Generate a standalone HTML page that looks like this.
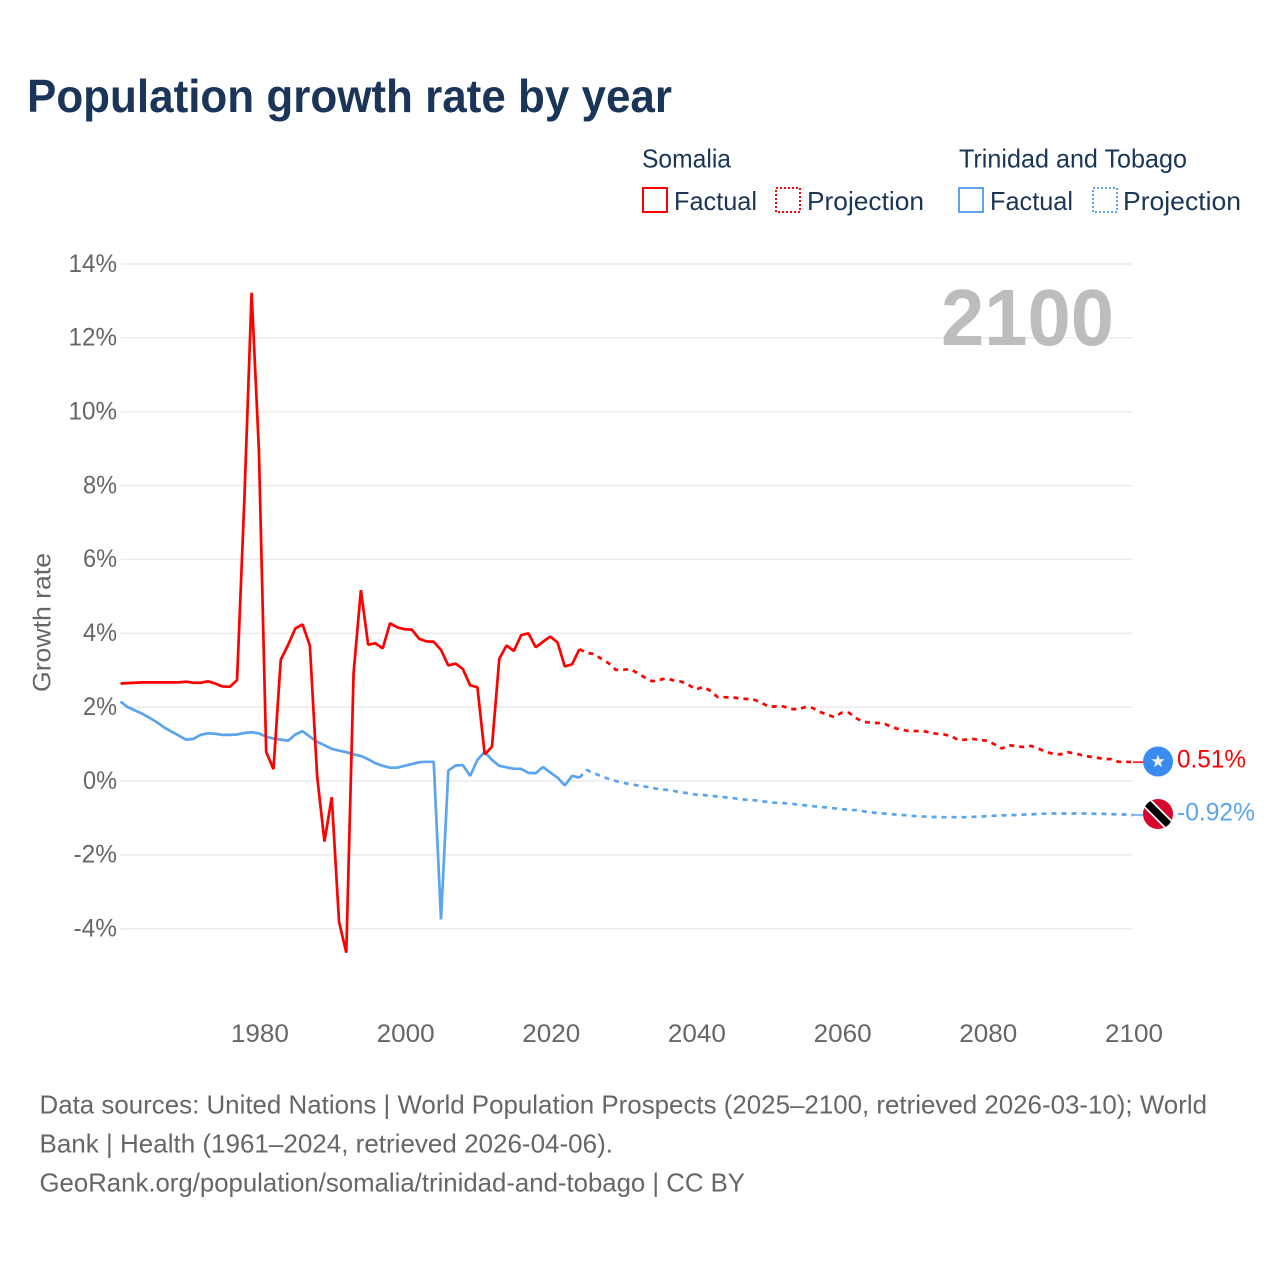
<!DOCTYPE html>
<html lang="en">
<head>
<meta charset="utf-8">
<title>Population growth rate by year</title>
<style>
html,body{margin:0;padding:0;background:#fff;}
svg{display:block;}
text{font-family:"Liberation Sans",Arial,sans-serif;}
</style>
</head>
<body>
<svg id="chart" xmlns="http://www.w3.org/2000/svg" width="1280" height="1280" viewBox="0 0 1280 1280">
  <rect x="0" y="0" width="1280" height="1280" fill="#ffffff"/>
  <text x="27" y="112" font-size="46" font-weight="700" fill="#1a3557" textLength="645" lengthAdjust="spacingAndGlyphs">Population growth rate by year</text>

  <g>
    <text x="642" y="167.5" font-size="26" fill="#1a3557" textLength="89" lengthAdjust="spacingAndGlyphs">Somalia</text>
    <rect x="643" y="188" width="24" height="24" fill="none" stroke="#ff0000" stroke-width="2"/>
    <text x="674" y="210" font-size="26" fill="#1a3557" textLength="83" lengthAdjust="spacingAndGlyphs">Factual</text>
    <rect x="776" y="188" width="24" height="24" fill="none" stroke="#ff0000" stroke-width="2" stroke-dasharray="2 2"/>
    <text x="807" y="210" font-size="26" fill="#1a3557" textLength="117" lengthAdjust="spacingAndGlyphs">Projection</text>
    <text x="959" y="167.5" font-size="26" fill="#1a3557" textLength="228" lengthAdjust="spacingAndGlyphs">Trinidad and Tobago</text>
    <rect x="959" y="188" width="24" height="24" fill="none" stroke="#5ba4ee" stroke-width="2"/>
    <text x="990" y="210" font-size="26" fill="#1a3557" textLength="83" lengthAdjust="spacingAndGlyphs">Factual</text>
    <rect x="1093" y="188" width="24" height="24" fill="none" stroke="#5ba4ee" stroke-width="2" stroke-dasharray="2 2"/>
    <text x="1123" y="210" font-size="26" fill="#1a3557" textLength="118" lengthAdjust="spacingAndGlyphs">Projection</text>
  </g>

  <g id="grid"></g>
  <g id="yticks"></g>
  <g id="xticks"></g>
  <text transform="translate(50.5,622.5) rotate(-90)" text-anchor="middle" font-size="25" fill="#666666" textLength="139" lengthAdjust="spacingAndGlyphs">Growth rate</text>
  <text x="941" y="345" font-size="80" font-weight="700" fill="#bdbdbd" textLength="173" lengthAdjust="spacingAndGlyphs">2100</text>
  <g id="series"></g>

  <defs>
    <clipPath id="tt-clip"><circle cx="1158" cy="814" r="15"/></clipPath>
  </defs>
  <g>
    <circle cx="1158" cy="761.5" r="15" fill="#3a8bef"/>
    <polygon fill="#f2f2f2" points="1158,754.5 1159.7,759.3 1164.7,759.3 1160.7,762.4 1162.1,767.3 1158,764.4 1153.9,767.3 1155.3,762.4 1151.3,759.3 1156.3,759.3"/>
  </g>
  <g clip-path="url(#tt-clip)">
    <rect x="1143" y="799" width="30" height="30" fill="#d7062f"/>
    <line x1="1143" y1="799" x2="1173" y2="829" stroke="#ffffff" stroke-width="11"/>
    <line x1="1143" y1="799" x2="1173" y2="829" stroke="#000000" stroke-width="7.5"/>
  </g>
  <text x="1177" y="767.5" font-size="25" fill="#ff0000" textLength="69" lengthAdjust="spacingAndGlyphs">0.51%</text>
  <text x="1177" y="820.5" font-size="25" fill="#5ba4ee" textLength="78" lengthAdjust="spacingAndGlyphs">-0.92%</text>

  <g font-size="26" fill="#666666">
    <text x="39.5" y="1113.5" textLength="1167.5" lengthAdjust="spacingAndGlyphs">Data sources: United Nations | World Population Prospects (2025–2100, retrieved 2026-03-10); World</text>
    <text x="39.5" y="1152.5" textLength="573.5" lengthAdjust="spacingAndGlyphs">Bank | Health (1961–2024, retrieved 2026-04-06).</text>
    <text x="39.5" y="1191.5" textLength="705.5" lengthAdjust="spacingAndGlyphs">GeoRank.org/population/somalia/trinidad-and-tobago | CC BY</text>
  </g>
</svg>
<script>
const firstYear = 1961;
const lastYear = 2100;
const xTickYears = [1980, 2000, 2020, 2040, 2060, 2080, 2100];
const yTickValues = [14, 12, 10, 8, 6, 4, 2, 0, -2, -4];

// Somalia, factual 1961-2024
const somaliaFactual = [2.64,2.65,2.66,2.67,2.67,2.67,2.67,2.67,2.67,2.69,2.66,2.66,2.70,2.64,2.56,2.55,2.73,7.60,13.22,8.96,0.79,0.32,3.28,3.68,4.13,4.24,3.66,0.12,-1.64,-0.44,-3.81,-4.65,2.92,5.17,3.69,3.73,3.59,4.27,4.16,4.11,4.10,3.85,3.78,3.77,3.55,3.13,3.18,3.03,2.59,2.54,0.72,0.93,3.31,3.67,3.52,3.95,4.00,3.62,3.77,3.91,3.75,3.10,3.16,3.57];
// Somalia, projection 2025-2100
const somaliaProjection = [3.47,3.44,3.31,3.19,3.01,3.01,3.03,2.92,2.80,2.70,2.74,2.78,2.72,2.69,2.60,2.48,2.55,2.44,2.27,2.27,2.26,2.24,2.22,2.20,2.12,2.01,2.02,2.02,1.95,1.94,2.00,1.98,1.87,1.80,1.73,1.85,1.85,1.70,1.60,1.58,1.57,1.54,1.45,1.40,1.36,1.35,1.36,1.32,1.28,1.26,1.22,1.11,1.12,1.14,1.11,1.09,0.99,0.88,0.97,0.94,0.92,0.95,0.88,0.79,0.74,0.72,0.78,0.75,0.70,0.66,0.63,0.60,0.59,0.52,0.52,0.51];
// Trinidad and Tobago, factual 1961-2024
const trinidadFactual = [2.15,2.00,1.91,1.82,1.71,1.59,1.45,1.34,1.23,1.12,1.14,1.25,1.29,1.28,1.25,1.25,1.26,1.30,1.32,1.29,1.20,1.15,1.12,1.09,1.26,1.35,1.20,1.06,0.97,0.87,0.82,0.78,0.72,0.68,0.59,0.48,0.41,0.36,0.36,0.41,0.46,0.51,0.52,0.52,-3.75,0.28,0.42,0.43,0.14,0.57,0.79,0.57,0.41,0.37,0.33,0.33,0.22,0.21,0.38,0.23,0.09,-0.12,0.14,0.09];
// Trinidad and Tobago, projection 2025-2100
const trinidadProjection = [0.30,0.21,0.13,0.06,0.00,-0.05,-0.09,-0.12,-0.15,-0.19,-0.22,-0.24,-0.27,-0.31,-0.33,-0.37,-0.38,-0.40,-0.42,-0.44,-0.46,-0.49,-0.51,-0.52,-0.55,-0.57,-0.59,-0.60,-0.61,-0.64,-0.66,-0.68,-0.70,-0.72,-0.74,-0.76,-0.78,-0.79,-0.82,-0.85,-0.87,-0.885,-0.90,-0.92,-0.93,-0.95,-0.96,-0.97,-0.975,-0.98,-0.98,-0.98,-0.98,-0.97,-0.965,-0.95,-0.94,-0.93,-0.925,-0.92,-0.91,-0.905,-0.89,-0.885,-0.88,-0.88,-0.88,-0.88,-0.88,-0.88,-0.89,-0.89,-0.90,-0.90,-0.91,-0.92];

const NS = 'http://www.w3.org/2000/svg';
const plotLeft = 120.5, plotRight = 1133;
const xScale = function (year) {
  return plotLeft + (year - firstYear) * (plotRight - plotLeft) / (lastYear - firstYear);
};
const yScale = function (value) {
  return 781 - value * 36.93;
};
const make = function (tag, attrs) {
  const el = document.createElementNS(NS, tag);
  Object.keys(attrs).forEach(function (k) { el.setAttribute(k, attrs[k]); });
  return el;
};

const grid = document.getElementById('grid');
const yticks = document.getElementById('yticks');
yTickValues.forEach(function (v) {
  const line = make('line', {x1: plotLeft, x2: plotRight, y1: yScale(v), y2: yScale(v), stroke: '#ececec', 'stroke-width': 1.5});
  
  
  grid.appendChild(line);
  const label = v + '%';
  const digits = String(Math.abs(v)).length;
  const labelWidth = digits * 14.5 + 19.5 + (v < 0 ? 9.5 : 0);
  const t = make('text', {x: 117, y: yScale(v) + 7.8, 'text-anchor': 'end', 'font-size': 25, fill: '#666666', textLength: labelWidth, lengthAdjust: 'spacingAndGlyphs'});
  
  
  t.textContent = label;
  yticks.appendChild(t);
});

const xticks = document.getElementById('xticks');
xTickYears.forEach(function (year) {
  const t = make('text', {x: xScale(year) + 1, y: 1042, 'text-anchor': 'middle', 'font-size': 25, fill: '#666666', textLength: 58, lengthAdjust: 'spacingAndGlyphs'});
  
  
  t.textContent = String(year);
  xticks.appendChild(t);
});

const pointsFrom = function (values, startYear) {
  return values.map(function (v, i) {
    return xScale(startYear + i).toFixed(2) + ',' + yScale(v).toFixed(2);
  }).join(' ');
};
const series = document.getElementById('series');
const drawLine = function (pts, color, width, dash) {
  const attrs = {points: pts, fill: 'none', stroke: color, 'stroke-width': width, 'stroke-linejoin': 'bevel'};
  if (dash) attrs['stroke-dasharray'] = dash;
  const el = make('polyline', attrs);
  series.appendChild(el);
  return el;
};
const blue = '#5ba4ee', red = '#ff0000';

const tf = drawLine(pointsFrom(trinidadFactual, firstYear), blue, 2.7);


const tfLast = trinidadFactual[trinidadFactual.length - 1];
const tp = drawLine(pointsFrom([tfLast].concat(trinidadProjection), 2024), blue, 2.7, '5 5');



const sf = drawLine(pointsFrom(somaliaFactual, firstYear), red, 2.7);


const sfLast = somaliaFactual[somaliaFactual.length - 1];
const sp = drawLine(pointsFrom([sfLast].concat(somaliaProjection), 2024), red, 2.7, '5 5');



const sEnd = somaliaProjection[somaliaProjection.length - 1];
const tEnd = trinidadProjection[trinidadProjection.length - 1];
const sc = make('line', {x1: xScale(lastYear), x2: 1143, y1: yScale(sEnd), y2: yScale(sEnd), stroke: red, 'stroke-width': 1.5});


series.appendChild(sc);
const tc = make('line', {x1: xScale(lastYear), x2: 1143, y1: yScale(tEnd), y2: yScale(tEnd), stroke: blue, 'stroke-width': 1.5});


series.appendChild(tc);
</script>
</body>
</html>
